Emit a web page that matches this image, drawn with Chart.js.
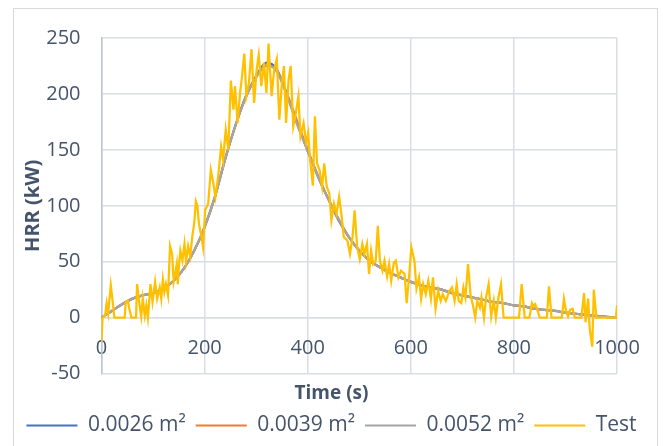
<!DOCTYPE html>
<html>
<head>
<meta charset="utf-8">
<script src="https://cdn.jsdelivr.net/npm/chart.js@4.4.1/dist/chart.umd.min.js"></script>
<style>
  html, body { margin: 0; padding: 0; background: #ffffff; }
  #frame { position: absolute; left: 13px; top: 8px; width: 645px; height: 460px; border: 1px solid #d9d9d9; box-sizing: border-box; }
  #myChart { position: absolute; left: 0; top: 0; }
</style>
</head>
<body>
<div id="frame"></div>
<canvas id="myChart" width="663" height="446"></canvas>
<script>
"use strict"

const simTime = [0, 20, 40, 60, 80, 100, 120, 140, 160, 180, 200, 220, 240, 260, 280, 300, 320, 340, 360, 380,
  400, 420, 440, 460, 480, 500, 520, 540, 560, 580, 600, 620, 640, 660, 680, 700, 720, 740, 760, 780,
  800, 820, 840, 860, 880, 900, 920, 940, 960, 980, 1000];
const sim0026 = [0, 6, 12, 17, 20, 22, 26, 33, 44, 60, 81, 108, 142, 172, 198, 216, 228, 222, 199, 173,
  149, 126, 106, 87, 72, 60, 51, 45, 40, 36, 32, 29, 27, 25, 22, 20, 18, 16, 14, 13,
  11, 10, 8, 7, 6, 4.5, 3.5, 2.5, 1.5, 0.8, 0];
const sim0039 = [0, 6, 12, 17, 20, 22, 26, 33, 44, 60, 81, 108, 142, 172, 197, 215, 225, 221, 200, 175,
  150, 127, 106, 88, 72, 60, 51, 45, 40, 36, 32, 29, 27, 25, 22, 20, 18, 16, 14, 13,
  11, 10, 8, 7, 6, 4.5, 3.5, 2.5, 1.5, 0.8, 0];
const sim0052 = [0, 6, 12, 17, 20, 22, 26, 33, 44, 60, 81, 108, 142, 172, 197, 215, 226, 220, 198, 172,
  149, 126, 106, 88, 72, 60, 51, 45, 40, 36, 32, 29, 27, 25, 22, 20, 18, 16, 14, 13,
  11, 10, 8, 7, 6, 4.5, 3.5, 2.5, 1.5, 0.8, 0];

const testTime = [0, 2, 7, 10, 13, 18, 22, 25, 45, 47, 51, 54, 58, 67, 69, 73, 77, 80, 84, 87,
  90, 95, 99, 104, 108, 113, 116, 119, 122, 125, 129, 133, 137, 140, 143, 146, 148, 150, 153, 157,
  161, 164, 168, 172, 176, 180, 183, 186, 189, 194, 197, 201, 207, 212, 217, 221, 227, 232, 236, 241,
  246, 251, 256, 259, 264, 269, 272, 277, 281, 286, 291, 296, 301, 305, 310, 315, 320, 324, 330, 335,
  340, 345, 350, 354, 358, 363, 367, 372, 377, 382, 386, 392, 397, 401, 404, 410, 414, 418, 423, 428,
  432, 437, 442, 446, 451, 456, 461, 466, 470, 477, 482, 487, 491, 496, 501, 506, 510, 515, 519, 523,
  527, 532, 536, 540, 545, 549, 554, 558, 562, 567, 571, 576, 581, 588, 592, 596, 601, 607, 611, 616,
  620, 624, 629, 634, 639, 643, 648, 653, 658, 662, 668, 675, 680, 685, 689, 693, 698, 702, 706, 711,
  716, 721, 725, 729, 734, 737, 742, 746, 751, 756, 761, 765, 770, 775, 780, 810, 815, 821, 830, 835,
  838, 841, 845, 850, 864, 868, 873, 893, 897, 901, 905, 909, 914, 918, 931, 936, 939, 944, 947, 952,
  955, 960, 998, 1000];
const testHrr = [-22, 0, 2, 13, 4, 29, 13, 0, 0, 14, 15, 8, 0, 0, 30, 14, 1, 17, 2, 11,
  0, 30, 14, 32, 17, 27, 17, 34, 23, 30, 20, 64, 57, 32, 39, 48, 30, 45, 60, 51,
  66, 50, 64, 55, 72, 85, 104, 100, 84, 72, 63, 96, 102, 132, 120, 108, 129, 153, 141, 168,
  150, 212, 186, 207, 174, 202, 213, 236, 198, 210, 240, 192, 222, 235, 207, 228, 201, 245, 198, 222,
  231, 177, 210, 225, 174, 213, 225, 171, 183, 198, 162, 174, 156, 165, 144, 118, 180, 138, 132, 117,
  138, 117, 111, 87, 102, 93, 108, 90, 72, 69, 57, 72, 96, 63, 52, 66, 57, 66, 39, 60,
  48, 51, 82, 51, 42, 51, 37, 48, 33, 49, 51, 36, 42, 39, 13, 33, 63, 51, 26, 36,
  17, 30, 21, 33, 17, 36, 8, 24, 15, 21, 15, 24, 27, 15, 30, 15, 13, 27, 18, 48,
  20, 10, 0, 15, 9, 18, 0, 18, 30, 1, 15, 0, 18, 30, 0, 0, 30, 0, 0, 13,
  10, 12, 8, 0, 0, 28, 0, 0, 17, 6, 1, 7, 8, 0, 0, 22, -4, 17, -10, -26,
  25, 0, 0, 11];

const seriesLabels = ['0.0026 m²', '0.0039 m²', '0.0052 m²', 'Test'];
const xTicks = [0, 200, 400, 600, 800, 1000];
const yTicks = [-50, 0, 50, 100, 150, 200, 250];

const blueLine = '#4472c4';
const orangeLine = '#ed7d31';
const grayLine = '#a5a5a5';
const yellowLine = '#ffc000';
const textColor = '#44546a';
const gridColor = '#d9dde5';

function toPoints(times, values) {
  return times.map((t, i) => ({ x: t, y: values[i] }));
}

function simDataset(label, values, color, order) {
  return {
    label: label,
    data: toPoints(simTime, values),
    borderColor: color,
    backgroundColor: color,
    borderWidth: 2.25,
    pointRadius: 0,
    cubicInterpolationMode: 'monotone',
    order: order
  };
}

Chart.defaults.font.family = "'Open Sans', sans-serif";
Chart.defaults.color = textColor;

const ctx = document.getElementById('myChart').getContext('2d');
const myChart = new Chart(ctx, {
  type: 'line',
  data: {
    datasets: [
      simDataset(seriesLabels[0], sim0026, blueLine, 4),
      simDataset(seriesLabels[1], sim0039, orangeLine, 3),
      simDataset(seriesLabels[2], sim0052, grayLine, 2),
      {
        label: seriesLabels[3],
        data: toPoints(testTime, testHrr),
        borderColor: yellowLine,
        backgroundColor: yellowLine,
        borderWidth: 2.25,
        pointRadius: 0,
        tension: 0,
        order: 1
      }
    ]
  },
  options: {
    responsive: false,
    animation: false,
    layout: { padding: { left: 0, right: 0, top: 38, bottom: 0 } },
    plugins: {
      tooltip: { enabled: false },
      title: {
        display: true,
        text: 'Time (s)',
        position: 'bottom',
        weight: 500,
        color: textColor,
        font: { size: 19, weight: 'bold' },
        padding: { top: 8.6, bottom: 0 }
      },
      legend: {
        position: 'bottom',
        labels: {
          boxWidth: 51,
          boxHeight: 2,
          padding: 10,
          color: textColor,
          font: { size: 21 },
          sort: (a, b) => a.datasetIndex - b.datasetIndex,
          generateLabels: (chart) => Chart.defaults.plugins.legend.labels.generateLabels(chart)
            .map(item => Object.assign(item, { lineWidth: 0, fillStyle: item.strokeStyle }))
        }
      }
    },
    scales: {
      x: {
        type: 'linear',
        position: { y: 0 },
        min: 0,
        max: 1000,
        afterBuildTicks: (axis) => { axis.ticks = xTicks.map(v => ({ value: v })); },
        afterFit: (axis) => { axis.height = 0; },
        ticks: { padding: 19, font: { size: 20 }, color: textColor, maxRotation: 0, callback: (v) => String(v) },
        grid: { color: gridColor, lineWidth: 1.5, drawTicks: false },
        border: { color: gridColor, width: 1.5 }
      },
      y: {
        min: -50,
        max: 250,
        afterBuildTicks: (axis) => { axis.ticks = yTicks.map(v => ({ value: v })); },
        afterFit: (axis) => { axis.width = 101.5; },
        ticks: { padding: 21, font: { size: 20 }, color: textColor, callback: (v) => String(v) },
        grid: { color: gridColor, lineWidth: 1.5, drawTicks: false },
        border: { color: '#bcc5d3', width: 1.5 },
        title: {
          display: true,
          text: 'HRR (kW)',
          color: textColor,
          font: { size: 20, weight: 'bold' },
          padding: { top: 21, bottom: 0 }
        }
      },
      yRight: {
        position: 'right',
        afterFit: (axis) => { axis.width = 46; },
        ticks: { display: false },
        grid: { display: false },
        border: { display: false }
      }
    }
  }
});
</script>
</body>
</html>
